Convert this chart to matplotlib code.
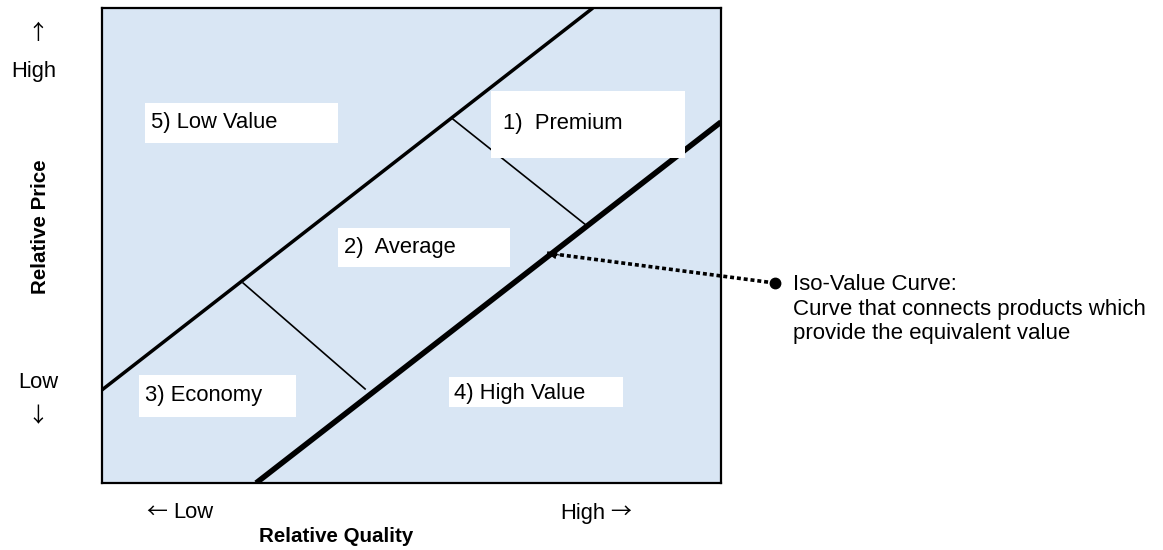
import matplotlib
matplotlib.use("Agg")
import matplotlib.pyplot as plt
from matplotlib.patches import Rectangle

plt.rcParams['font.family'] = ['Liberation Sans', 'DejaVu Sans']

# Diagram space: relative quality (x) and relative price (y), both 0..100
upper_curve_x = [0.0, 79.3]
upper_curve_y = [19.6, 100.0]
lower_curve_x = [24.9, 100.0]
lower_curve_y = [0.0, 76.0]

# Segments joining the two iso-value curves
link_top_x = [56.7, 78.0]
link_top_y = [76.6, 54.5]
link_bottom_x = [22.8, 42.5]
link_bottom_y = [42.1, 19.8]

# Segment labels: text, box (x0, y0, x1, y1), text anchor (x, y)
segment_labels = ["5) Low Value", "1)  Premium", "2)  Average", "3) Economy", "4) High Value"]
segment_boxes = [
    (6.9, 71.6, 38.1, 80.0),
    (62.8, 68.4, 94.2, 82.5),
    (38.1, 45.5, 65.9, 53.7),
    (6.0, 13.9, 31.3, 22.7),
    (56.1, 16.0, 84.2, 22.3),
]
segment_anchors = [(7.9, 75.8), (64.8, 75.6), (39.1, 49.5), (6.9, 18.5), (56.9, 18.9)]

# Callout for the iso-value curve
callout_tip = (71.9, 48.4)
callout_dot = (108.7, 42.1)
callout_lines = ["Iso-Value Curve:",
                 "Curve that connects products which",
                 "provide the equivalent value"]

W, H = 1163, 550
fig = plt.figure(figsize=(W / 100, H / 100), dpi=100)
fig.patch.set_facecolor('white')

left, right, top, bottom = 102, 721, 8, 483
ax = fig.add_axes([left / W, 1 - bottom / H, (right - left) / W, (bottom - top) / H])
ax.set_xlim(0, 100)
ax.set_ylim(0, 100)
ax.set_facecolor('#d9e6f4')
ax.set_xticks([])
ax.set_yticks([])
for s in ax.spines.values():
    s.set_linewidth(1.6)
    s.set_color('black')

ax.plot(upper_curve_x, upper_curve_y, color='black', lw=2.5, solid_capstyle='butt', zorder=2)
ax.plot(lower_curve_x, lower_curve_y, color='black', lw=4.0, solid_capstyle='butt', zorder=2)
ax.plot(link_top_x, link_top_y, color='black', lw=1.2, zorder=2)
ax.plot(link_bottom_x, link_bottom_y, color='black', lw=1.2, zorder=2)

for label, (x0, y0, x1, y1), (tx, ty) in zip(segment_labels, segment_boxes, segment_anchors):
    ax.add_patch(Rectangle((x0, y0), x1 - x0, y1 - y0, facecolor='white',
                           edgecolor='none', zorder=3))
    ax.text(tx, ty, label, fontsize=15.8, ha='left', va='center', zorder=4)

# Dotted callout line from the description to the lower curve, with a small head
ax.plot([callout_dot[0], callout_tip[0]], [callout_dot[1], callout_tip[1]],
        color='black', lw=2.6, linestyle=(0, (1.1, 0.8)), dash_capstyle='butt',
        clip_on=False, zorder=5)
ax.annotate("", xy=callout_tip, xytext=(callout_tip[0] + 2.0, callout_tip[1] - 0.4),
            xycoords='data', textcoords='data', annotation_clip=False, zorder=5,
            arrowprops=dict(arrowstyle='-|>,head_length=0.55,head_width=0.28',
                            color='black', lw=0.8, shrinkA=0, shrinkB=0))
ax.plot([callout_dot[0]], [callout_dot[1]], marker='o', markersize=7.5, color='black',
        clip_on=False, zorder=6)

def px(x, y):
    return x / W, 1 - y / H

fs = 15.8
for i, line in enumerate(callout_lines):
    fig.text(*px(793, 284 + 25 * i), line, fontsize=16.0, ha='left', va='center')

arrow_font = ['Noto Sans CJK JP', 'DejaVu Sans']

# Price axis annotations
fig.text(*px(38, 33), "↑", fontsize=15, family=arrow_font, ha='center', va='center')
fig.text(*px(34, 72), "High", fontsize=fs, ha='center', va='center')
fig.text(*px(40, 227), "Relative Price", fontsize=14.8, fontweight='bold',
         rotation=90, ha='center', va='center')
fig.text(*px(38, 382), "Low", fontsize=fs, ha='center', va='center')
fig.text(*px(38, 416), "↓", fontsize=15, family=arrow_font, ha='center', va='center')

# Quality axis annotations
fig.text(*px(157, 512), "←", fontsize=15, family=arrow_font, ha='center', va='center')
fig.text(*px(173, 512), "Low", fontsize=fs, ha='left', va='center')
fig.text(*px(560, 514), "High", fontsize=fs, ha='left', va='center')
fig.text(*px(621, 512), "→", fontsize=15, family=arrow_font, ha='center', va='center')
fig.text(*px(336, 537), "Relative Quality", fontsize=14.8, fontweight='bold',
         ha='center', va='center')

fig.savefig("out.png", dpi=100, facecolor='white')
